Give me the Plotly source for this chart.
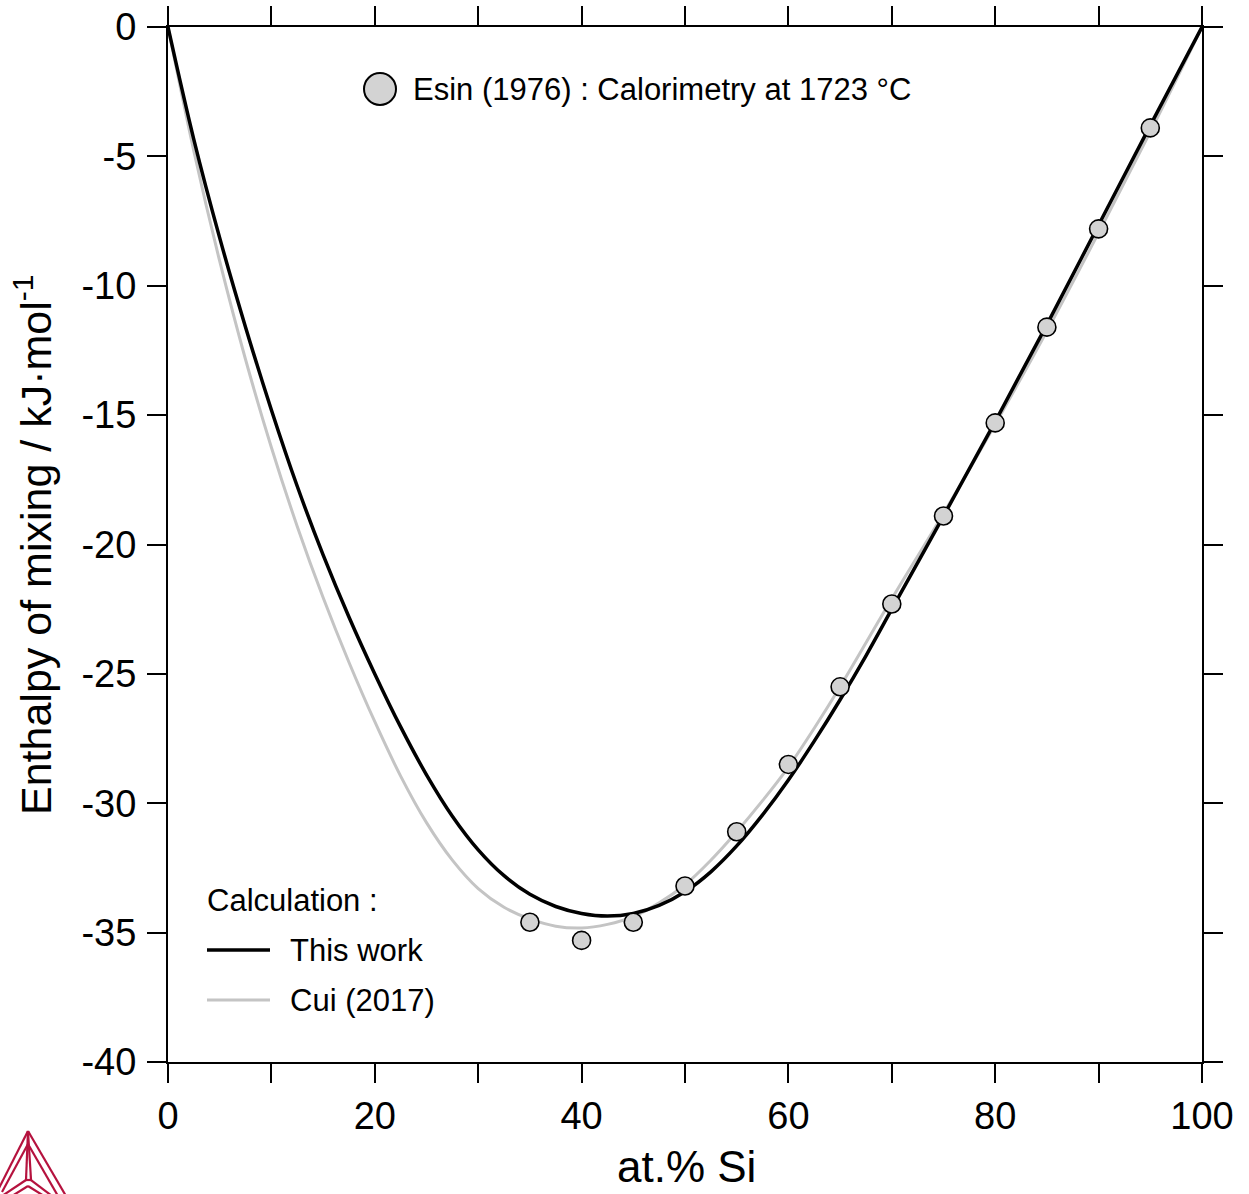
import plotly.graph_objects as go

# ---- data ----
exp_x = [35, 40, 45, 50, 55, 60, 65, 70, 75, 80, 85, 90, 95]
exp_y = [-34.6, -35.3, -34.6, -33.2, -31.1, -28.5, -25.5, -22.3, -18.9, -15.3, -11.6, -7.8, -3.9]

this_x = [0, 2.5, 5, 7.5, 10, 12.5, 15, 17.5, 20, 22.5, 25, 27.5, 30, 32.5, 35, 37.5, 40, 42.5, 45,
          47.5, 50, 52.5, 55, 57.5, 60, 62.5, 65, 67.5, 70, 75, 80, 85, 90, 95, 100]
this_y = [0, -4.35, -8.15, -11.6, -14.8, -17.75, -20.4, -22.8, -25.0, -27.05, -28.9, -30.5, -31.8,
          -32.8, -33.52, -33.99, -34.26, -34.36, -34.26, -33.95, -33.42, -32.65, -31.65, -30.45, -29.1,
          -27.6, -26.0, -24.3, -22.5, -18.9, -15.25, -11.5, -7.65, -3.8, 0]

cui_x = [0, 2.5, 5, 7.5, 10, 12.5, 15, 17.5, 20, 22.5, 25, 27.5, 30, 32.5, 35, 37.5, 40, 42.5, 45,
         47.5, 50, 52.5, 55, 57.5, 60, 62.5, 65, 70, 75, 80, 85, 90, 95, 100]
cui_y = [0, -4.8, -9.05, -12.85, -16.25, -19.3, -22.05, -24.55, -26.85, -28.95, -30.75, -32.2, -33.3,
         -34.02, -34.47, -34.75, -34.82, -34.68, -34.38, -33.85, -33.15, -32.2, -31.1, -29.9, -28.6,
         -27.1, -25.5, -22.1, -18.8, -15.35, -11.75, -7.95, -4.05, 0]

x_tickvals = [0, 20, 40, 60, 80, 100]
x_ticktext = ["0", "20", "40", "60", "80", "100"]
y_tickvals = [0, -5, -10, -15, -20, -25, -30, -35, -40]
y_ticktext = ["0", "-5", "-10", "-15", "-20", "-25", "-30", "-35", "-40"]

FONT = "Liberation Sans, Arial, sans-serif"
GRAY = "#c4c4c4"
MARK = "#d3d3d3"
LOGO = "#b5123e"

fig = go.Figure()
fig.add_trace(go.Scatter(x=cui_x, y=cui_y, mode="lines",
                         line=dict(color=GRAY, width=3, shape="spline", smoothing=1.0),
                         showlegend=False, name="Cui (2017)"))
fig.add_trace(go.Scatter(x=this_x, y=this_y, mode="lines",
                         line=dict(color="black", width=3.5, shape="spline", smoothing=1.0),
                         showlegend=False, name="This work"))
fig.add_trace(go.Scatter(x=exp_x, y=exp_y, mode="markers",
                         marker=dict(size=18, color=MARK, line=dict(color="black", width=1.6)),
                         showlegend=False, name="Esin (1976)"))

W, H = 1249, 1194
L, R, T, B = 168, 47, 27, 132
pw, ph = W - L - R, H - T - B


def px(x):
    return (x - L) / pw


def py(y):
    return (H - B - y) / ph


shapes = []
# legend circle (top)
shapes.append(dict(type="circle", xref="paper", yref="paper",
                   xsizemode="pixel", ysizemode="pixel",
                   xanchor=px(380), yanchor=py(89),
                   x0=-16, x1=16, y0=-16, y1=16,
                   fillcolor=MARK, line=dict(color="black", width=2)))
# legend lines (bottom)
shapes.append(dict(type="line", xref="paper", yref="paper",
                   x0=px(207), x1=px(270), y0=py(950), y1=py(950),
                   line=dict(color="black", width=3.5)))
shapes.append(dict(type="line", xref="paper", yref="paper",
                   x0=px(207), x1=px(270), y0=py(1000), y1=py(1000),
                   line=dict(color=GRAY, width=3)))


# logo (partially cut off at bottom-left)
def seg(p, q, w=2.2):
    return dict(type="line", xref="paper", yref="paper",
                x0=px(p[0]), y0=py(p[1]), x1=px(q[0]), y1=py(q[1]),
                line=dict(color=LOGO, width=w))


apex = (28, 1131)
shapes += [
    seg(apex, (-4, 1194)),
    seg(apex, (66, 1196)),
    seg((28, 1144), (2, 1192)),
    seg((28, 1144), (58, 1196)),
    seg(apex, (26, 1180)),
    seg(apex, (31, 1180)),
    seg((25, 1180), (32, 1180)),
    seg((26, 1180), (2, 1196)),
    seg((31, 1180), (52, 1196)),
    seg((28, 1186), (12, 1196)),
    seg((28, 1186), (44, 1196)),
]

annotations = [
    dict(xref="paper", yref="paper", x=px(411), y=py(89), xanchor="left", yanchor="middle",
         text="Esin (1976) : Calorimetry at 1723 °C", showarrow=False,
         font=dict(family=FONT, size=31, color="black")),
    dict(xref="paper", yref="paper", x=px(205), y=py(900), xanchor="left", yanchor="middle",
         text="Calculation :", showarrow=False,
         font=dict(family=FONT, size=31, color="black")),
    dict(xref="paper", yref="paper", x=px(288), y=py(950), xanchor="left", yanchor="middle",
         text="This work", showarrow=False,
         font=dict(family=FONT, size=31, color="black")),
    dict(xref="paper", yref="paper", x=px(288), y=py(1000), xanchor="left", yanchor="middle",
         text="Cui (2017)", showarrow=False,
         font=dict(family=FONT, size=31, color="black")),
    dict(xref="paper", yref="paper", x=px(686), y=py(1166), xanchor="center", yanchor="middle",
         text="at.% Si", showarrow=False,
         font=dict(family=FONT, size=44, color="black")),
    dict(xref="paper", yref="paper", x=px(33), y=py(545), xanchor="center", yanchor="middle",
         text="Enthalpy of mixing / kJ·mol<sup>-1</sup>", showarrow=False, textangle=-90,
         font=dict(family=FONT, size=43, color="black")),
]

fig.update_layout(
    width=W, height=H,
    margin=dict(l=L, r=R, t=T, b=B, pad=0, autoexpand=False),
    paper_bgcolor="white", plot_bgcolor="white",
    font=dict(family=FONT, color="black"),
    shapes=shapes, annotations=annotations,
    showlegend=False,
)
fig.update_xaxes(range=[0, 100], tickvals=x_tickvals, ticktext=x_ticktext,
                 ticks="outside", ticklen=19, tickwidth=1.6, tickcolor="black",
                 minor=dict(ticks="outside", ticklen=19, tickwidth=1.6, tickcolor="black",
                            tick0=0, dtick=10),
                 showline=True, linecolor="black", linewidth=2, mirror="ticks",
                 showgrid=False, zeroline=False, automargin=False,
                 tickfont=dict(family=FONT, size=38, color="black"),
                 ticklabelstandoff=0)
fig.update_yaxes(range=[-40, 0], tickvals=y_tickvals, ticktext=y_ticktext,
                 ticks="outside", ticklen=19, tickwidth=1.6, tickcolor="black",
                 showline=True, linecolor="black", linewidth=2, mirror="ticks",
                 showgrid=False, zeroline=False, automargin=False,
                 tickfont=dict(family=FONT, size=38, color="black"),
                 ticklabelstandoff=3)

fig.write_html("out.html", config={"displayModeBar": False},
               post_script="document.body.style.margin='0px';document.body.style.padding='0px';"
                           "document.body.style.overflow='hidden';")
